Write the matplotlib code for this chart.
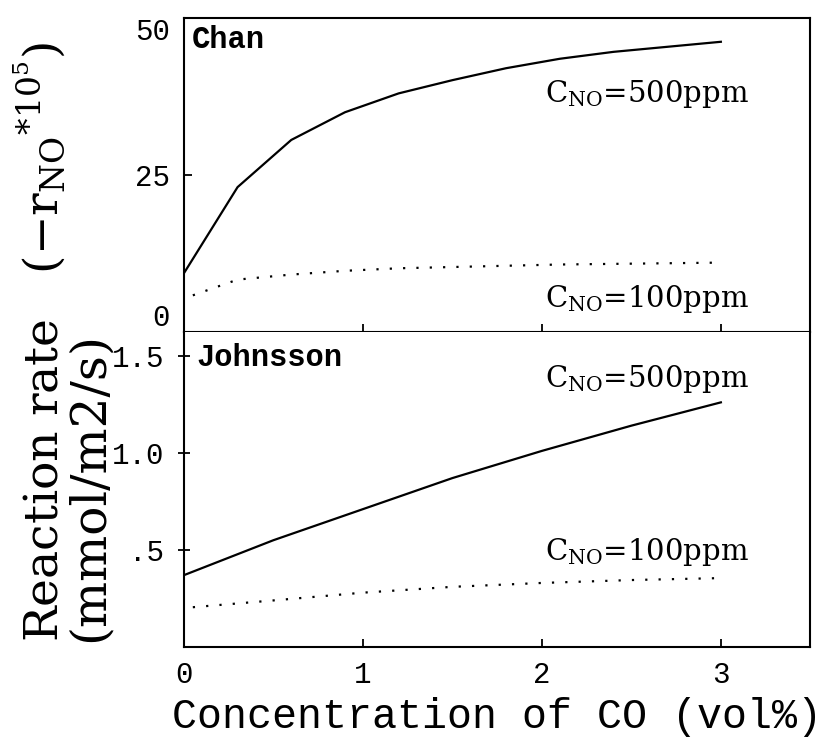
import numpy as np
import matplotlib
matplotlib.use('Agg')
import matplotlib.pyplot as plt

plt.rcParams['font.family'] = 'Liberation Mono'
plt.rcParams['mathtext.fontset'] = 'custom'
plt.rcParams['mathtext.rm'] = 'Liberation Mono'
plt.rcParams['mathtext.it'] = 'Liberation Mono'
plt.rcParams['mathtext.bf'] = 'Liberation Mono:bold'

# Chan model (top panel), rate * 1e5
chan_x = [0, 0.3, 0.6, 0.9, 1.2, 1.5, 1.8, 2.1, 2.4, 2.7, 3.0]
chan_500 = [9.4, 23.1, 30.6, 35.0, 38.0, 40.1, 42.0, 43.5, 44.6, 45.4, 46.2]
chan_100_x = [0.05, 0.3, 0.6, 0.9, 1.2, 1.5, 1.8, 2.1, 2.4, 2.7, 3.0]
chan_100 = [5.9, 8.4, 9.2, 9.8, 10.2, 10.4, 10.6, 10.8, 10.9, 11.0, 11.1]

# Johnsson model (bottom panel), mmol/m2/s
john_x = [0, 0.5, 1.0, 1.5, 2.0, 2.5, 3.0]
john_500 = [0.37, 0.55, 0.71, 0.87, 1.01, 1.14, 1.26]
john_100_x = [0.05, 0.5, 1.0, 1.5, 2.0, 2.5, 3.0]
john_100 = [0.205, 0.24, 0.28, 0.31, 0.33, 0.345, 0.355]

top_yticks = [0, 25, 50]
bot_yticks = [0.5, 1.0, 1.5]
bot_yticklabels = ['.5', '1.0', '1.5']
xticks = [0, 1, 2, 3]

fig, (ax1, ax2) = plt.subplots(2, 1, figsize=(8.32, 7.45), dpi=100, sharex=True,
                               gridspec_kw={'hspace': 0})
fig.subplots_adjust(left=0.221, right=0.974, top=0.976, bottom=0.1315)

dot = (0, (1, 5))
ax1.plot(chan_x, chan_500, color='black', lw=1.6)
ax1.plot(chan_100_x, chan_100, color='black', lw=1.6, linestyle=dot)
ax2.plot(john_x, john_500, color='black', lw=1.6)
ax2.plot(john_100_x, john_100, color='black', lw=1.6, linestyle=dot)

ax1.set_xlim(0, 3.5)
ax1.set_ylim(0, 50)
ax2.set_ylim(0, 1.62)

ax1.set_yticks(top_yticks)
ax2.set_yticks(bot_yticks)
ax2.set_yticklabels(bot_yticklabels)
ax2.set_xticks(xticks)

for ax in (ax1, ax2):
    for s in ax.spines.values():
        s.set_linewidth(1.5)
    ax.tick_params(direction='in', length=6, width=1.3, labelsize=21, pad=10)
ax2.tick_params(axis='y', direction='inout', length=8)
ax2.spines['top'].set_visible(False)
ax1.tick_params(axis='x', labelbottom=False)

# keep the "0" and "50" labels inside the top panel's height
ytl = ax1.yaxis.get_major_ticks()
ytl[0].label1.set_verticalalignment('bottom')
ytl[-1].label1.set_verticalalignment('top')

ax1.text(0.045, 46.5, 'Chan', fontsize=22, fontweight='bold', va='center')
ax2.text(0.07, 1.49, 'Johnsson', fontsize=22, fontweight='bold', va='center')

lab = dict(fontsize=21, family='DejaVu Serif', math_fontfamily='dejavuserif', va='baseline')
ax1.text(2.02, 36.6, r'C$_{\mathrm{NO}}$=500ppm', **lab)
ax1.text(2.02, 4.0, r'C$_{\mathrm{NO}}$=100ppm', **lab)
ax2.text(2.02, 1.34, r'C$_{\mathrm{NO}}$=500ppm', **lab)
ax2.text(2.02, 0.448, r'C$_{\mathrm{NO}}$=100ppm', **lab)

ax2.set_xlabel('Concentration of CO (vol%)', fontsize=30, labelpad=6)

ylab = dict(rotation=90, ha='center', va='bottom', family='DejaVu Serif',
            math_fontfamily='dejavuserif')
fig.text(40 / 832, 1 - 642 / 745,
         'Reaction rate   ($-\\mathrm{r}_{\\mathrm{NO}}$$^{*10^{5}}$)',
         fontsize=34, **ylab)
fig.text(89 / 832, 1 - 642 / 745, '(mmol/m2/s)', fontsize=35, **ylab)

fig.savefig('out.png', dpi=100)
